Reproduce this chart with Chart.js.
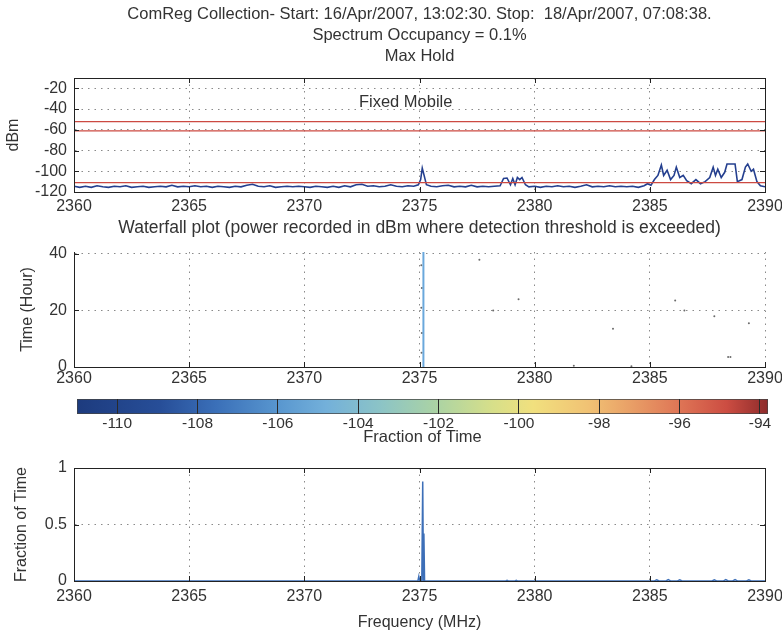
<!DOCTYPE html>
<html lang="en">
  <head>
    <meta charset="UTF-8" />
    <title>ComReg spectrum occupancy 2360 - 2390 MHz</title>
    <style>
      * {
        margin: 0;
        padding: 0;
      }
      body {
        width: 782px;
        height: 637px;
        background: #fff;
        position: relative;
        overflow: hidden;
      }
      .panel {
        position: absolute;
        left: 0;
        width: 782px;
      }
    </style>
  </head>
  <body>
    <div class="panel" style="top: 0; height: 215px"><canvas id="maxHold"></canvas></div>
    <div class="panel" style="top: 215px; height: 180px"><canvas id="waterfall"></canvas></div>
    <div class="panel" style="top: 392px; height: 54px"><canvas id="colorBar"></canvas></div>
    <div class="panel" style="top: 440px; height: 197px"><canvas id="fraction"></canvas></div>

    <script src="https://cdn.jsdelivr.net/npm/chart.js"></script>

    <script>
      // ---- data ----
      const freqTicks = [2360, 2365, 2370, 2375, 2380, 2385, 2390];
      const dbmTicks = [-120, -100, -80, -60, -40, -20];
      const hourTicks = [0, 20, 40];
      const fracTicks = [0, 0.5, 1];
      const colorTicks = [-110, -108, -106, -104, -102, -100, -98, -96, -94];

      // detection thresholds (red lines), dBm
      const thresholdLevels = [-52, -61, -111];

      // max hold trace
      const maxHoldFreq = [
        2360, 2360.25, 2360.5, 2360.75, 2361, 2361.25, 2361.5, 2361.75, 2362, 2362.25,
        2362.5, 2362.75, 2363, 2363.25, 2363.5, 2363.75, 2364, 2364.25, 2364.5, 2364.75,
        2365, 2365.25, 2365.5, 2365.75, 2366, 2366.25, 2366.5, 2366.75, 2367, 2367.25,
        2367.5, 2367.75, 2368, 2368.25, 2368.5, 2368.75, 2369, 2369.25, 2369.5, 2369.75,
        2370, 2370.25, 2370.5, 2370.75, 2371, 2371.25, 2371.5, 2371.75, 2372, 2372.25,
        2372.5, 2372.75, 2373, 2373.25, 2373.5, 2373.75, 2374, 2374.25, 2374.5, 2374.75,
        2374.95, 2375.05, 2375.12, 2375.2, 2375.3, 2375.5, 2375.75, 2376, 2376.25, 2376.5,
        2376.75, 2377, 2377.25, 2377.5, 2377.75, 2378, 2378.25, 2378.5, 2378.65, 2378.8,
        2378.95, 2379.05, 2379.15, 2379.25, 2379.35, 2379.45, 2379.6, 2379.75, 2380, 2380.25,
        2380.5, 2380.75, 2381, 2381.25, 2381.5, 2381.75, 2382, 2382.25, 2382.5, 2382.75,
        2383, 2383.25, 2383.5, 2383.75, 2384, 2384.25, 2384.5, 2384.75, 2384.9, 2385.05,
        2385.2, 2385.35, 2385.5, 2385.6, 2385.75, 2385.9, 2386.05, 2386.15, 2386.3, 2386.45,
        2386.6, 2386.8, 2387, 2387.2, 2387.4, 2387.6, 2387.75, 2387.85, 2387.95, 2388.1,
        2388.25, 2388.35, 2388.55, 2388.7, 2388.8, 2389, 2389.15, 2389.25, 2389.4, 2389.5,
        2389.65, 2389.8, 2390
      ];
      const maxHoldDbm = [
        -114.5, -115.5, -114.5, -115.5, -114, -115, -115.5, -114.5, -115, -114,
        -115.5, -115, -114.5, -115.5, -115, -114.5, -115, -113.5, -115, -114.5,
        -115, -114, -115, -114.5, -115.5, -114.5, -115, -115.5, -114.5, -115,
        -113.5, -112.5, -114.5, -115, -114, -115.5, -115, -114.5, -115, -114.5,
        -115, -115.5, -114.5, -115, -115.5, -114.5, -115.5, -114, -115, -113,
        -112.5, -114.5, -114, -115, -114.5, -113, -114.5, -115, -114, -114.5,
        -113, -108, -97, -104, -113, -114.5, -115, -114, -113.5, -115,
        -114.5, -115, -113.5, -115, -114.5, -115, -114.5, -114, -107, -106.5,
        -113, -107, -113, -106, -108, -106, -113, -115, -114.5, -115.5,
        -114.5, -115, -114, -115, -114.5, -115.5, -114.5, -113, -115, -114.5,
        -115, -114, -115, -114.5, -115, -114.5, -115.5, -114, -112, -113.5,
        -108, -104, -94, -104, -99, -108, -104, -96, -106, -104,
        -109, -112, -108, -112, -110, -106, -96, -104, -98, -106,
        -101, -93, -93, -93, -110, -108, -96, -93, -100, -98,
        -110, -114, -115
      ];

      // waterfall: the one channel seen the whole time, plus isolated hits
      const waterfallFreq = [2375.17, 2375.17];
      const waterfallHour = [0, 40.7];
      const hitFreq = [2375.08, 2375.1, 2375.08, 2375.1, 2375.09, 2377.6, 2378.2, 2379.3, 2383.4, 2386.1, 2386.5, 2387.8, 2389.3, 2388.4, 2388.5, 2381.7, 2384.2];
      const hitHour = [36, 28, 21, 12, 5, 38, 20, 24, 13.5, 23.5, 20, 18, 15.5, 3.5, 3.5, 0.4, 0.3];

      // fraction of time above threshold
      const fracFreq = [
        2360, 2374.93, 2374.97, 2375.01, 2375.1, 2375.14, 2375.17, 2375.19, 2375.22, 2375.3,
        2378.75, 2378.8, 2378.85, 2379.15, 2379.2, 2379.25, 2385.2, 2385.3, 2385.4, 2385.7,
        2385.8, 2385.9, 2386.2, 2386.3, 2386.4, 2387.7, 2387.8, 2387.9, 2388.2, 2388.3,
        2388.4, 2388.6, 2388.7, 2388.8, 2389.2, 2389.3, 2389.4, 2390
      ];
      const fracValue = [
        0, 0, 0.04, 0, 0, 0.88, 0, 0.42, 0, 0,
        0, 0.006, 0, 0, 0.006, 0, 0, 0.01, 0, 0,
        0.012, 0, 0, 0.01, 0, 0, 0.01, 0, 0, 0.012,
        0, 0, 0.012, 0, 0, 0.01, 0, 0
      ];

      // ---- shared look ----
      const FONT = "'Liberation Sans', Arial, sans-serif";
      const INK = "#333";
      Chart.defaults.font.family = FONT;
      Chart.defaults.font.size = 16;
      Chart.defaults.color = INK;
      Chart.defaults.animation = false;
      Chart.defaults.plugins.legend.display = false;
      Chart.defaults.plugins.tooltip.enabled = false;

      const pts = (xs, ys) => xs.map((x, i) => ({ x, y: ys[i] }));
      const setTicks = (list) => (s) => { s.ticks = list.map((v) => ({ value: v })); };
      const fixX = (h) => (s) => { s.height = h; s.paddingLeft = 0; s.paddingRight = 0; };
      const fixY = (w) => (s) => { s.width = w; s.paddingTop = 0; s.paddingBottom = 0; };
      const plain = (v) => String(v);

      const dotted = { display: true, color: "#222", width: 1, dash: [1.5, 5] };
      const gridStyle = { color: "#8a8a8a", drawTicks: false };

      function freqAxis(height, pad, title) {
        return {
          type: "linear",
          min: 2360,
          max: 2390,
          afterBuildTicks: setTicks(freqTicks),
          afterFit: fixX(height),
          grid: gridStyle,
          border: dotted,
          ticks: { padding: pad, maxRotation: 0, callback: plain },
          title: title || { display: false }
        };
      }

      // black frame with inward tick marks, MATLAB style
      const framePlugin = {
        id: "frame",
        afterDatasetsDraw(chart, args, opts) {
          const { ctx, chartArea: a, scales } = chart;
          const len = 5;
          ctx.save();
          ctx.strokeStyle = "#222";
          ctx.lineWidth = 1;
          ctx.beginPath();
          if (opts.box) {
            ctx.rect(Math.round(a.left) + 0.5, Math.round(a.top) + 0.5, Math.round(a.right - a.left), Math.round(a.bottom - a.top));
          }
          scales.x.ticks.forEach((t) => {
            const px = Math.round(scales.x.getPixelForValue(t.value)) + 0.5;
            ctx.moveTo(px, a.bottom);
            ctx.lineTo(px, a.bottom - len);
            if (opts.box) {
              ctx.moveTo(px, a.top);
              ctx.lineTo(px, a.top + len);
            }
          });
          scales.y.ticks.forEach((t) => {
            const py = Math.round(scales.y.getPixelForValue(t.value)) + 0.5;
            ctx.moveTo(a.left, py);
            ctx.lineTo(a.left + len, py);
            if (opts.box) {
              ctx.moveTo(a.right, py);
              ctx.lineTo(a.right - len, py);
            }
          });
          ctx.stroke();
          ctx.restore();
        }
      };

      // text written inside a plot at data coordinates
      const notePlugin = {
        id: "note",
        afterDatasetsDraw(chart, args, opts) {
          if (!opts.text) return;
          const { ctx, scales } = chart;
          ctx.save();
          ctx.font = "16.5px " + FONT;
          ctx.fillStyle = INK;
          ctx.textAlign = "center";
          ctx.textBaseline = "middle";
          ctx.fillText(opts.text, scales.x.getPixelForValue(opts.x), scales.y.getPixelForValue(opts.y));
          ctx.restore();
        }
      };

      // ---- 1: max hold ----
      const thresholdSets = thresholdLevels.map((lvl) => ({
        data: pts([2360, 2390], [lvl, lvl]),
        borderColor: "#cc4a42",
        borderWidth: 1.2,
        pointRadius: 0
      }));

      new Chart(document.getElementById("maxHold"), {
        type: "line",
        data: {
          datasets: [
            ...thresholdSets,
            {
              data: pts(maxHoldFreq, maxHoldDbm),
              borderColor: "#243f8f",
              borderWidth: 1.6,
              pointRadius: 0,
              tension: 0
            }
          ]
        },
        plugins: [framePlugin, notePlugin],
        options: {
          maintainAspectRatio: false,
          layout: { padding: { left: 0, right: 17, top: 0, bottom: 0 } },
          plugins: {
            title: {
              display: true,
              fullSize: false,
              text: [
                "ComReg Collection- Start: 16/Apr/2007, 13:02:30. Stop:  18/Apr/2007, 07:08:38.",
                "Spectrum Occupancy = 0.1%",
                "Max Hold"
              ],
              font: { size: 16.5, weight: "normal", lineHeight: "21px" },
              color: INK,
              padding: { top: 4, bottom: 11 }
            },
            frame: { box: true },
            note: { text: "Fixed Mobile", x: 2374.4, y: -33.5 }
          },
          scales: {
            x: freqAxis(23, 5),
            y: {
              type: "linear",
              min: -120,
              max: -10,
              afterBuildTicks: setTicks(dbmTicks),
              afterFit: fixY(74),
              grid: gridStyle,
              border: dotted,
              ticks: { padding: 7, callback: plain },
              title: { display: true, text: "dBm", padding: { top: 4, bottom: 0 } }
            }
          }
        }
      });

      // ---- 2: waterfall ----
      new Chart(document.getElementById("waterfall"), {
        type: "line",
        data: {
          datasets: [
            {
              data: pts(waterfallFreq, waterfallHour),
              borderColor: "#6aa8dc",
              borderWidth: 2,
              pointRadius: 0
            },
            {
              data: pts(hitFreq, hitHour),
              showLine: false,
              pointRadius: 1,
              pointBorderWidth: 0,
              pointBackgroundColor: "#6b6b6b"
            }
          ]
        },
        plugins: [framePlugin],
        options: {
          maintainAspectRatio: false,
          layout: { padding: { left: 0, right: 17, top: 0, bottom: 0 } },
          plugins: {
            title: {
              display: true,
              fullSize: false,
              text: "Waterfall plot (power recorded in dBm where detection threshold is exceeded)",
              font: { size: 17.5, weight: "normal", lineHeight: "20px" },
              color: INK,
              padding: { top: 3, bottom: 14 }
            },
            frame: { box: false }
          },
          scales: {
            x: freqAxis(28, 2),
            y: {
              type: "linear",
              min: 0,
              max: 40.7,
              afterBuildTicks: setTicks(hourTicks),
              afterFit: fixY(74),
              grid: gridStyle,
              border: dotted,
              ticks: { padding: 7, callback: plain },
              title: { display: true, text: "Time (Hour)", padding: { top: 18, bottom: 0 } }
            }
          }
        }
      });

      // ---- 3: colour bar ----
      const cbMin = -111;
      const cbMax = -93.8;
      const jetStops = [
        [0.0, "#1d3b7e"], [0.12, "#274e98"], [0.2, "#3a6fb8"], [0.29, "#5896cf"],
        [0.36, "#73b0da"], [0.44, "#8cc4c6"], [0.52, "#abd3a4"], [0.6, "#d6df8a"],
        [0.66, "#f1e07e"], [0.74, "#f1c274"], [0.8, "#e9a067"], [0.87, "#df7656"],
        [0.94, "#cc4d42"], [1.0, "#8e2b2b"]
      ];

      new Chart(document.getElementById("colorBar"), {
        type: "bar",
        data: {
          labels: ["dBm"],
          datasets: [
            {
              data: [[cbMin, cbMax]],
              backgroundColor: (c) => {
                const a = c.chart.chartArea;
                if (!a) return "#888";
                const g = c.chart.ctx.createLinearGradient(a.left, 0, a.right, 0);
                jetStops.forEach(([p, col]) => g.addColorStop(p, col));
                return g;
              },
              borderColor: "#444",
              borderWidth: 1,
              borderSkipped: false,
              barPercentage: 1,
              categoryPercentage: 1
            }
          ]
        },
        options: {
          indexAxis: "y",
          maintainAspectRatio: false,
          layout: { padding: { left: 77, right: 14, top: 7, bottom: 0 } },
          scales: {
            x: {
              type: "linear",
              min: cbMin,
              max: cbMax,
              afterBuildTicks: setTicks(colorTicks),
              afterFit: fixX(32),
              grid: { color: "#2a2a2a", drawTicks: false, z: 1 },
              border: { display: false },
              ticks: { padding: 0, font: { size: 15.5 }, callback: plain },
              title: {
                display: true,
                text: "Fraction of Time",
                font: { size: 16.5, lineHeight: 1 },
                padding: { top: 0, bottom: 0 }
              }
            },
            y: { display: false }
          }
        }
      });

      // ---- 4: fraction of time ----
      new Chart(document.getElementById("fraction"), {
        type: "line",
        data: {
          datasets: [
            {
              data: pts(fracFreq, fracValue),
              borderColor: "#3d6fb8",
              borderWidth: 1.5,
              pointRadius: 0
            }
          ]
        },
        plugins: [framePlugin],
        options: {
          maintainAspectRatio: false,
          layout: { padding: { left: 0, right: 17, top: 28, bottom: 0 } },
          plugins: { frame: { box: true } },
          scales: {
            x: freqAxis(56, 6, {
              display: true,
              text: "Frequency (MHz)",
              padding: { top: 0, bottom: 5 }
            }),
            y: {
              type: "linear",
              min: 0,
              max: 1,
              afterBuildTicks: setTicks(fracTicks),
              afterFit: fixY(74),
              grid: gridStyle,
              border: dotted,
              ticks: { padding: 7, callback: plain },
              title: { display: true, text: "Fraction of Time", padding: { top: 12, bottom: 0 } }
            }
          }
        }
      });
    </script>
  </body>
</html>
